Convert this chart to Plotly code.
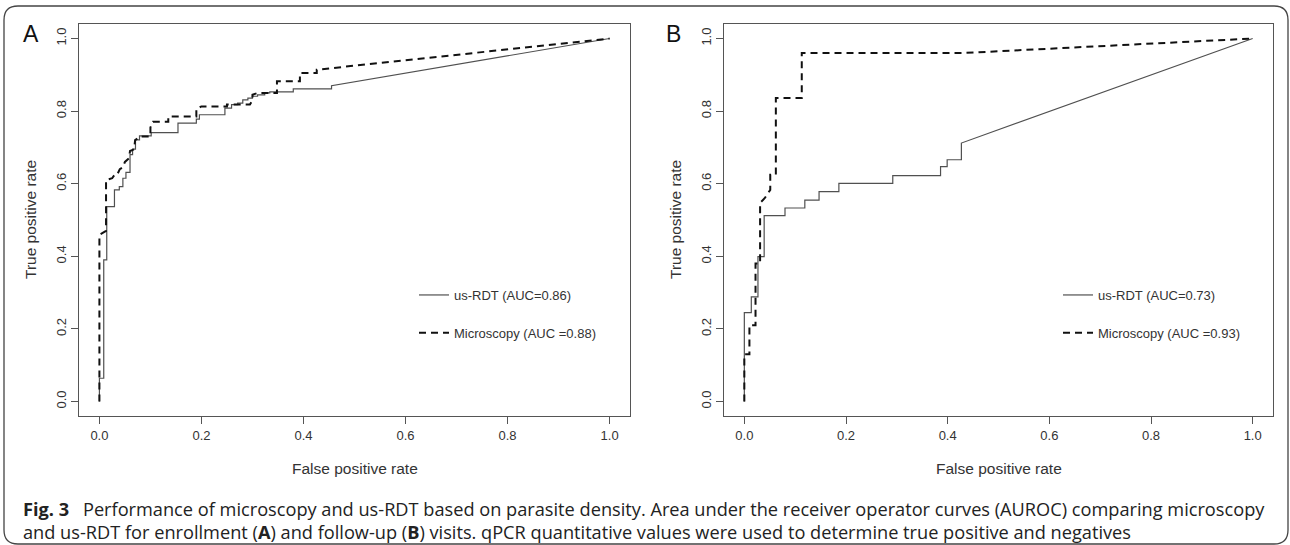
import plotly.graph_objects as go

# ---------------- data ----------------
tick_vals = [0.0, 0.2, 0.4, 0.6, 0.8, 1.0]
tick_text = ["0.0", "0.2", "0.4", "0.6", "0.8", "1.0"]

# Panel A (enrollment) - us-RDT (solid)
a_rdt_fpr = [0, 0, 0.0085, 0.0085, 0.0144, 0.0144, 0.0295, 0.0295, 0.039, 0.039,
             0.046, 0.046, 0.052, 0.052, 0.060, 0.060, 0.065, 0.065, 0.0707, 0.0707,
             0.0786, 0.0786, 0.1015, 0.1015, 0.154, 0.154, 0.190, 0.190, 0.196, 0.196,
             0.246, 0.246, 0.259, 0.259, 0.271, 0.271, 0.281, 0.281, 0.291, 0.291,
             0.300, 0.300, 0.310, 0.310, 0.324, 0.324, 0.334, 0.334, 0.380, 0.380,
             0.455, 0.455, 1.0]
a_rdt_tpr = [0, 0.064, 0.064, 0.39, 0.39, 0.537, 0.537, 0.583, 0.583, 0.592,
             0.592, 0.615, 0.615, 0.631, 0.631, 0.680, 0.680, 0.695, 0.695, 0.721,
             0.721, 0.732, 0.732, 0.741, 0.741, 0.767, 0.767, 0.778, 0.778, 0.790,
             0.790, 0.808, 0.808, 0.818, 0.818, 0.822, 0.822, 0.831, 0.831, 0.836,
             0.836, 0.841, 0.841, 0.845, 0.845, 0.850, 0.850, 0.853, 0.853, 0.861,
             0.861, 0.870, 1.0]

# Panel A - Microscopy (dashed)
a_mic_fpr = [0, 0, 0.013, 0.013, 0.025, 0.030, 0.035, 0.040, 0.046, 0.050,
             0.058, 0.060, 0.068, 0.070, 0.080, 0.100, 0.100, 0.105, 0.135, 0.135,
             0.190, 0.190, 0.200, 0.250, 0.250, 0.295, 0.300, 0.300, 0.310, 0.348,
             0.348, 0.393, 0.393, 0.426, 0.426, 1.0]
a_mic_tpr = [0, 0.459, 0.470, 0.610, 0.615, 0.625, 0.625, 0.640, 0.645, 0.660,
             0.670, 0.690, 0.695, 0.720, 0.730, 0.730, 0.755, 0.771, 0.771, 0.785,
             0.785, 0.806, 0.813, 0.813, 0.818, 0.818, 0.830, 0.845, 0.850, 0.850,
             0.882, 0.882, 0.905, 0.905, 0.914, 1.0]

# Panel B (follow-up) - us-RDT (solid)
b_rdt_fpr = [0, 0, 0.0137, 0.0137, 0.0268, 0.0268, 0.039, 0.039, 0.080, 0.080,
             0.119, 0.119, 0.147, 0.147, 0.186, 0.186, 0.292, 0.292, 0.386, 0.386,
             0.399, 0.399, 0.427, 0.427, 1.0]
b_rdt_tpr = [0, 0.245, 0.245, 0.288, 0.288, 0.399, 0.399, 0.512, 0.512, 0.533,
             0.533, 0.555, 0.555, 0.578, 0.578, 0.601, 0.601, 0.622, 0.622, 0.647,
             0.647, 0.666, 0.666, 0.712, 1.0]

# Panel B - Microscopy (dashed)
b_mic_fpr = [0, 0, 0.010, 0.010, 0.022, 0.022, 0.031, 0.031, 0.040, 0.051,
             0.051, 0.062, 0.062, 0.113, 0.113, 0.430, 1.0]
b_mic_tpr = [0, 0.130, 0.130, 0.210, 0.210, 0.380, 0.380, 0.547, 0.560, 0.583,
             0.625, 0.625, 0.836, 0.836, 0.960, 0.960, 1.0]

legend_a = ["us-RDT (AUC=0.86)", "Microscopy (AUC =0.88)"]
legend_b = ["us-RDT (AUC=0.73)", "Microscopy (AUC =0.93)"]
panel_labels = ["A", "B"]
x_title = "False positive rate"
y_title = "True positive rate"
caption_line1 = ("<b>Fig. 3</b>\u2002 Performance of microscopy and us-RDT based on parasite density. "
                 "Area under the receiver operator curves (AUROC) comparing microscopy")
caption_line2 = ("and us-RDT for enrollment (<b>A</b>) and follow-up (<b>B</b>) visits. "
                 "qPCR quantitative values were used to determine true positive and negatives")

# ---------------- figure ----------------
W, H = 1290, 545
def px_x(p):
    return p / W
def px_y(p):
    return 1 - p / H

SOLID = "#505050"
DASH = "#111111"
AXC = "#555555"
TXT = "#333333"
SANS = "Liberation Sans, Arial, sans-serif"
AX_FONT = dict(family=SANS, size=13, color=TXT)

fig = go.Figure()

fig.add_trace(go.Scatter(x=a_rdt_fpr, y=a_rdt_tpr, mode="lines", name=legend_a[0],
                         line=dict(color=SOLID, width=1.2), xaxis="x", yaxis="y",
                         legend="legend", legendgroup="a1"))
fig.add_trace(go.Scatter(x=a_mic_fpr, y=a_mic_tpr, mode="lines", name=legend_a[1],
                         line=dict(color=DASH, width=2, dash="7px,5px"), xaxis="x", yaxis="y",
                         legend="legend", legendgroup="a2"))
fig.add_trace(go.Scatter(x=b_rdt_fpr, y=b_rdt_tpr, mode="lines", name=legend_b[0],
                         line=dict(color=SOLID, width=1.2), xaxis="x2", yaxis="y2",
                         legend="legend2", legendgroup="b1"))
fig.add_trace(go.Scatter(x=b_mic_fpr, y=b_mic_tpr, mode="lines", name=legend_b[1],
                         line=dict(color=DASH, width=2, dash="7px,5px"), xaxis="x2", yaxis="y2",
                         legend="legend2", legendgroup="b2"))

axis_common = dict(range=[-0.04, 1.04], tickvals=tick_vals, ticktext=tick_text,
                   showline=True, mirror=True, linecolor=AXC, linewidth=1.3,
                   ticks="outside", ticklen=7, tickcolor=AXC, tickwidth=1.2,
                   showgrid=False, zeroline=False, tickfont=AX_FONT, fixedrange=True)

y_dom = [px_y(416), px_y(24)]
fig.update_layout(
    width=W, height=H,
    margin=dict(l=0, r=0, t=0, b=0),
    paper_bgcolor="white", plot_bgcolor="white",
    xaxis=dict(domain=[px_x(79), px_x(630)], anchor="y", **axis_common),
    yaxis=dict(domain=y_dom, anchor="x", tickangle=-90, **axis_common),
    xaxis2=dict(domain=[px_x(724), px_x(1273)], anchor="y2", **axis_common),
    yaxis2=dict(domain=y_dom, anchor="x2", tickangle=-90, **axis_common),
    legend=dict(x=px_x(414), y=px_y(280), xanchor="left", yanchor="top",
                bgcolor="rgba(0,0,0,0)", font=AX_FONT, traceorder="grouped",
                tracegroupgap=18, itemwidth=30),
    legend2=dict(x=px_x(1058), y=px_y(280), xanchor="left", yanchor="top",
                 bgcolor="rgba(0,0,0,0)", font=AX_FONT, traceorder="grouped",
                 tracegroupgap=18, itemwidth=30),
    showlegend=True,
)

annotations = []
# panel labels
for lab, xp in zip(panel_labels, [31, 673]):
    annotations.append(dict(text=lab, x=px_x(xp), y=px_y(34), xref="paper", yref="paper",
                            showarrow=False, xanchor="center", yanchor="middle",
                            font=dict(family=SANS, size=23, color="#111")))
# axis titles
for xc in [(79 + 630) / 2, (724 + 1273) / 2]:
    annotations.append(dict(text=x_title, x=px_x(xc), y=px_y(468), xref="paper", yref="paper",
                            showarrow=False, xanchor="center", yanchor="middle",
                            font=dict(family=SANS, size=15.5, color=TXT)))
for xc in [30, 675]:
    annotations.append(dict(text=y_title, x=px_x(xc), y=px_y(220), xref="paper", yref="paper",
                            showarrow=False, xanchor="center", yanchor="middle", textangle=-90,
                            font=dict(family=SANS, size=15.5, color=TXT)))
# caption
for line, yc in [(caption_line1, 509), (caption_line2, 532)]:
    annotations.append(dict(text=line, x=px_x(21), y=px_y(yc), xref="paper", yref="paper",
                            showarrow=False, xanchor="left", yanchor="middle",
                            font=dict(family="Open Sans, Noto Sans, sans-serif", size=18.2, color="#222")))
fig.update_layout(annotations=annotations)

# outer rounded frame
x0, x1, y0, y1, r = 4, 1288, 6, 544, 14
def P(x, y):
    return f"{px_x(x):.5f},{px_y(y):.5f}"
path = (f"M{P(x0 + r, y0)} L{P(x1 - r, y0)} Q{P(x1, y0)} {P(x1, y0 + r)} "
        f"L{P(x1, y1 - r)} Q{P(x1, y1)} {P(x1 - r, y1)} "
        f"L{P(x0 + r, y1)} Q{P(x0, y1)} {P(x0, y1 - r)} "
        f"L{P(x0, y0 + r)} Q{P(x0, y0)} {P(x0 + r, y0)} Z")
fig.add_shape(type="path", path=path, xref="paper", yref="paper",
              line=dict(color="#444", width=1.3), fillcolor="rgba(0,0,0,0)", layer="below")

fig.write_html("out.html", config={"displayModeBar": False})
